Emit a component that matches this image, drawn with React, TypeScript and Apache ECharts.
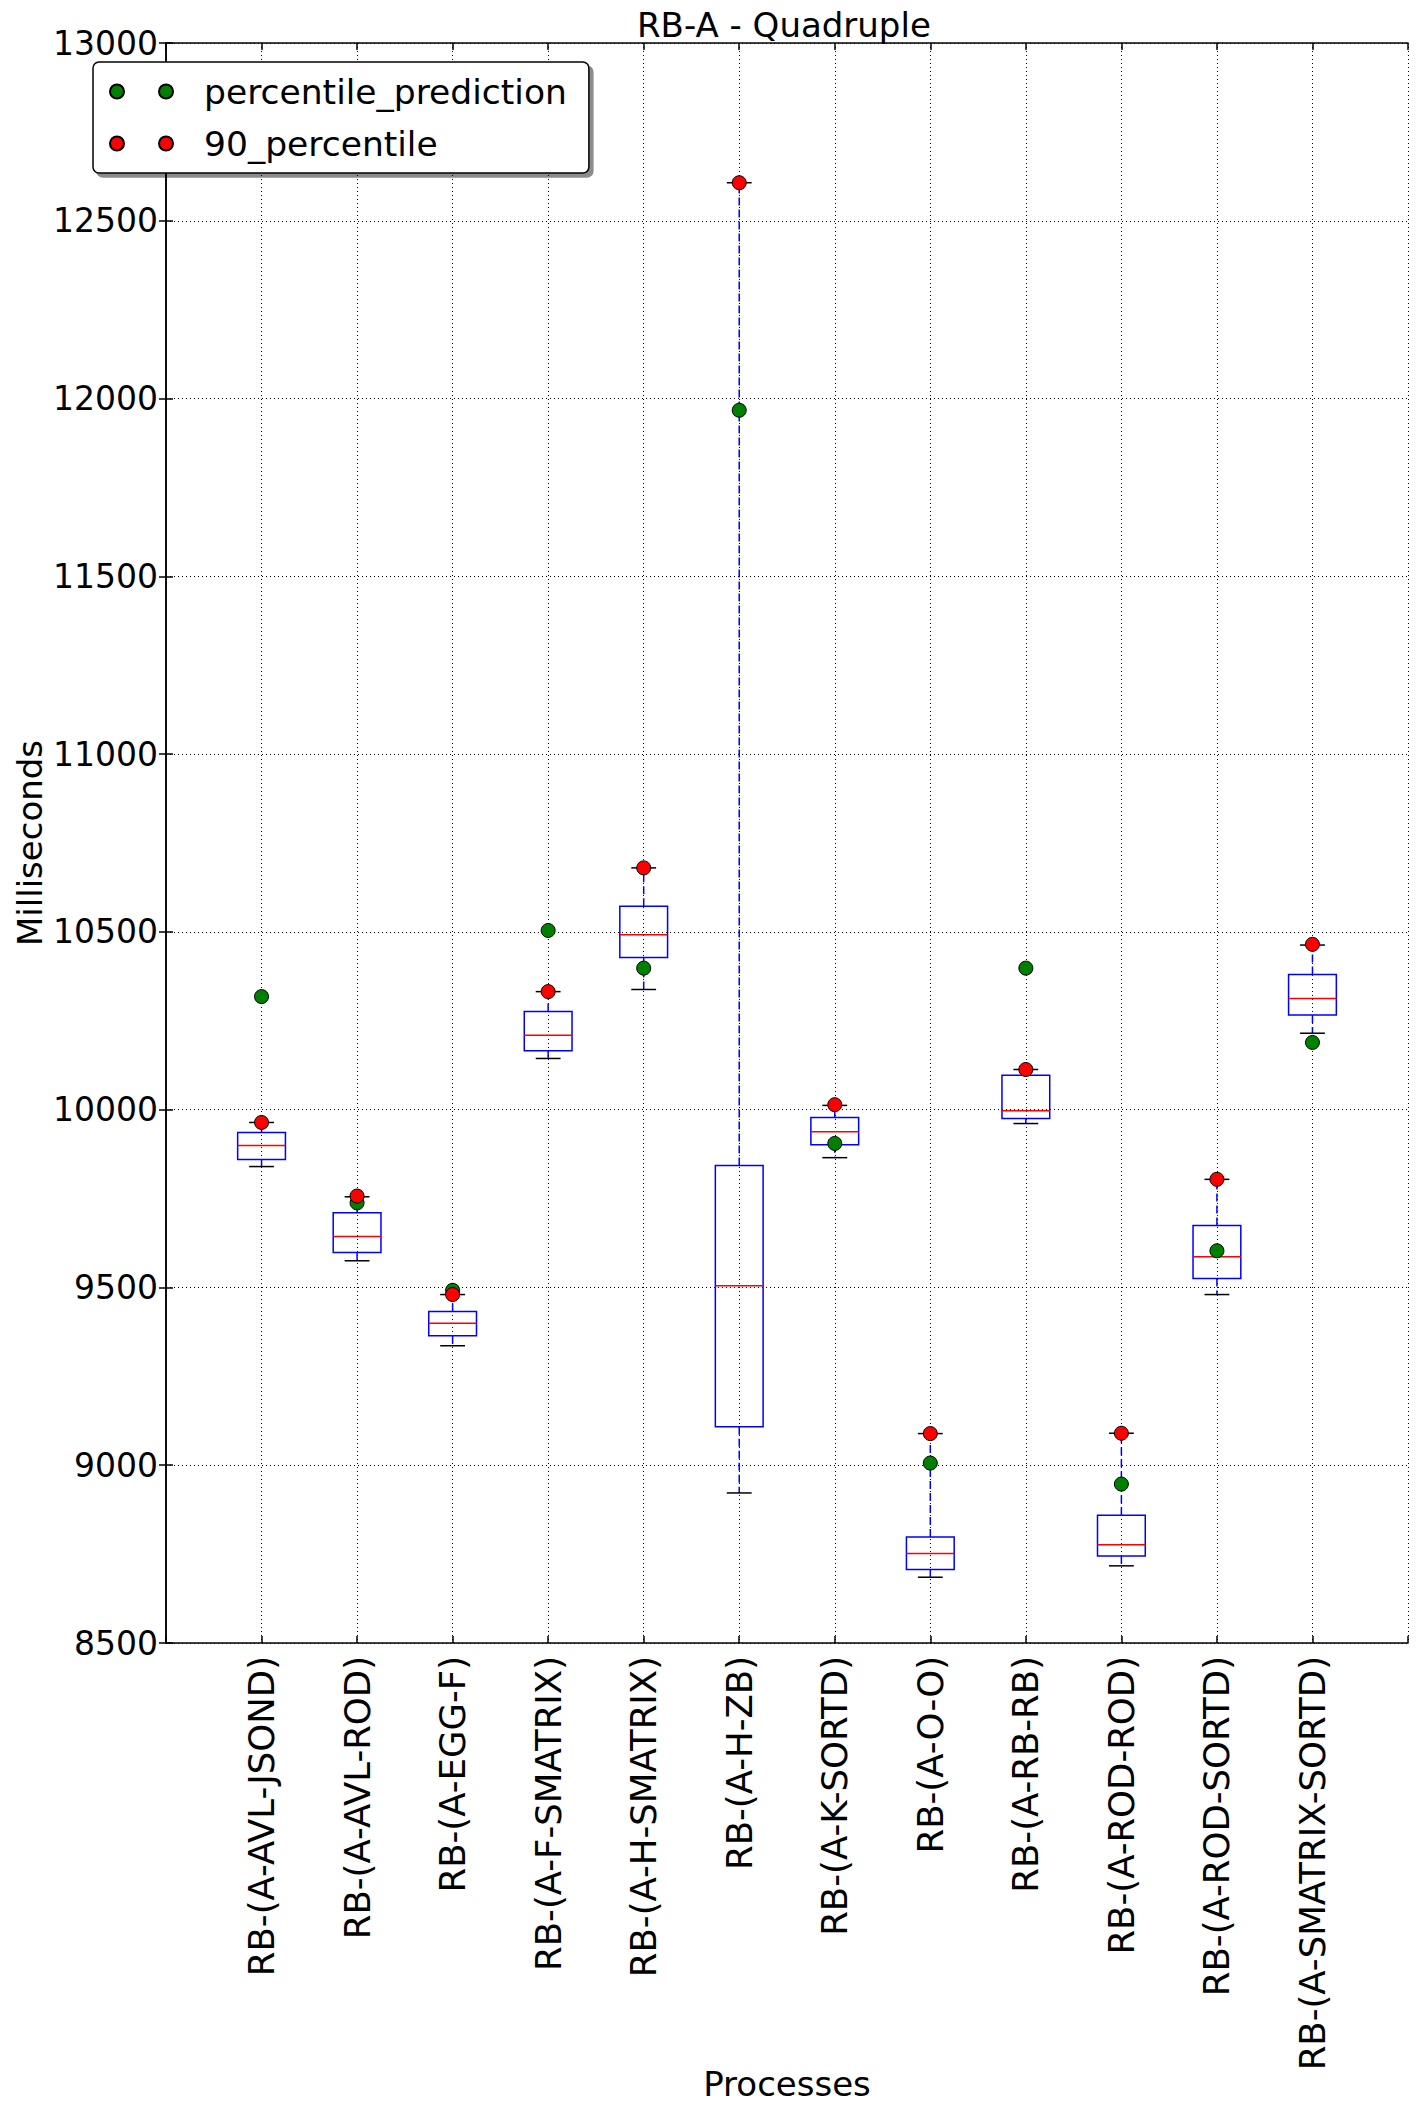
import React, { useEffect, useRef } from "react";
import * as echarts from "echarts";

const categories = [
  "RB-(A-AVL-JSOND)",
  "RB-(A-AVL-ROD)",
  "RB-(A-EGG-F)",
  "RB-(A-F-SMATRIX)",
  "RB-(A-H-SMATRIX)",
  "RB-(A-H-ZB)",
  "RB-(A-K-SORTD)",
  "RB-(A-O-O)",
  "RB-(A-RB-RB)",
  "RB-(A-ROD-ROD)",
  "RB-(A-ROD-SORTD)",
  "RB-(A-SMATRIX-SORTD)",
];

const lowerWhisker = [9840, 9575, 9336, 10144, 10338, 8922, 9865, 8685, 9961, 8717, 9480, 10215];
const q1 = [9860, 9598, 9364, 10166, 10428, 9108, 9901, 8707, 9975, 8745, 9525, 10266];
const median = [9899, 9643, 9399, 10209, 10492, 9505, 9938, 8752, 9997, 8776, 9586, 10313];
const q3 = [9936, 9710, 9432, 10276, 10572, 9843, 9978, 8798, 10097, 8859, 9674, 10380];
const upperWhisker = [9964, 9755, 9480, 10332, 10680, 12607, 10012, 9089, 10113, 9090, 9804, 10463];
const percentilePrediction = [10318, 9738, 9492, 10504, 10398, 11967, 9905, 9006, 10398, 8947, 9603, 10189];
const ninetyPercentile = [9964, 9757, 9480, 10332, 10680, 12607, 10014, 9089, 10113, 9090, 9804, 10465];

const FONT = "DejaVu Sans";
const legendIcon =
  "path://M0,7 A7,7 0 1,0 14,7 A7,7 0 1,0 0,7 Z M49,7 A7,7 0 1,0 63,7 A7,7 0 1,0 49,7 Z";

export default function App() {
  const ref = useRef<HTMLDivElement>(null);

  useEffect(() => {
    if (!ref.current) return;
    const chart = echarts.init(ref.current, undefined, { renderer: "svg" });

    const boxData = categories.map((_, i) => [
      i + 1,
      lowerWhisker[i],
      q1[i],
      median[i],
      q3[i],
      upperWhisker[i],
    ]);

    const renderItem = (params: any, api: any) => {
      const x = api.value(0);
      const pLow = api.coord([x, api.value(1)]);
      const pQ1 = api.coord([x, api.value(2)]);
      const pMed = api.coord([x, api.value(3)]);
      const pQ3 = api.coord([x, api.value(4)]);
      const pHigh = api.coord([x, api.value(5)]);
      const half = api.size([0.25, 0])[0];
      const capHalf = api.size([0.13, 0])[0];
      const cx = pMed[0];
      const dash = { stroke: "#0000ff", lineWidth: 1.5, lineDash: [8, 4] };
      return {
        type: "group",
        children: [
          { type: "line", shape: { x1: cx, y1: pQ3[1], x2: cx, y2: pHigh[1] }, style: dash },
          { type: "line", shape: { x1: cx, y1: pQ1[1], x2: cx, y2: pLow[1] }, style: dash },
          {
            type: "line",
            shape: { x1: cx - capHalf, y1: pHigh[1], x2: cx + capHalf, y2: pHigh[1] },
            style: { stroke: "#000", lineWidth: 1.5 },
          },
          {
            type: "line",
            shape: { x1: cx - capHalf, y1: pLow[1], x2: cx + capHalf, y2: pLow[1] },
            style: { stroke: "#000", lineWidth: 1.5 },
          },
          {
            type: "rect",
            shape: { x: cx - half, y: pQ3[1], width: 2 * half, height: pQ1[1] - pQ3[1] },
            style: { fill: "none", stroke: "#0000ff", lineWidth: 1.5 },
          },
          {
            type: "line",
            shape: { x1: cx - half, y1: pMed[1], x2: cx + half, y2: pMed[1] },
            style: { stroke: "#ff0000", lineWidth: 1.5 },
          },
        ],
      };
    };

    const tickLabel = { fontFamily: FONT, fontSize: 33, color: "#000" };
    const frameLine = { show: true, lineStyle: { color: "#000", width: 1.5 } };
    const dotted = { show: true, lineStyle: { color: "#000", width: 1, type: [1, 3] as any } };
    const innerTick = { show: true, inside: true, length: 7, lineStyle: { color: "#000", width: 1.5 } };

    chart.setOption({
      animation: false,
      backgroundColor: "#fff",
      title: {
        text: "RB-A - Quadruple",
        left: 637,
        top: 8,
        padding: 0,
        textStyle: { fontFamily: FONT, fontSize: 34, fontWeight: "normal", color: "#000" },
      },
      legend: {
        orient: "vertical",
        left: 93,
        top: 62,
        padding: [12, 22, 12, 16],
        itemGap: 17,
        itemWidth: 63,
        itemHeight: 14,
        backgroundColor: "#fff",
        borderColor: "#000",
        borderWidth: 1.5,
        borderRadius: 6,
        shadowColor: "rgba(0,0,0,0.45)",
        shadowOffsetX: 4,
        shadowOffsetY: 4,
        shadowBlur: 0,
        textStyle: { fontFamily: FONT, fontSize: 34.5, color: "#000", padding: [0, 0, 0, 26] },
        data: [
          { name: "percentile_prediction", icon: legendIcon },
          { name: "90_percentile", icon: legendIcon },
        ],
      },
      grid: {
        left: 166,
        top: 43,
        right: 9,
        bottom: 470,
        containLabel: false,
        outerBoundsMode: "none",
      },
      xAxis: [
        {
          type: "value",
          min: 0,
          max: 13,
          interval: 1,
          name: "Processes",
          nameLocation: "middle",
          nameGap: 424,
          nameMoveOverlap: false,
          nameTextStyle: { fontFamily: FONT, fontSize: 34, color: "#000" },
          axisLine: frameLine,
          axisTick: innerTick,
          axisLabel: {
            ...tickLabel,
            fontSize: 35.5,
            rotate: 90,
            margin: 13,
            padding: [0, 0, 14, 0],
            formatter: (v: number) => categories[Math.round(v) - 1] ?? "",
          },
          splitLine: dotted,
        },
        {
          type: "value",
          position: "top",
          min: 0,
          max: 13,
          interval: 1,
          axisLine: frameLine,
          axisTick: innerTick,
          axisLabel: { show: false },
          splitLine: { show: false },
        },
      ],
      yAxis: [
        {
          type: "value",
          min: 8500,
          max: 13000,
          interval: 500,
          name: "Milliseconds",
          nameLocation: "middle",
          nameRotate: 90,
          nameGap: 119,
          nameMoveOverlap: false,
          nameTextStyle: { fontFamily: FONT, fontSize: 34, color: "#000" },
          axisLine: frameLine,
          axisTick: innerTick,
          axisLabel: { ...tickLabel, margin: 8, formatter: (v: number) => String(v) },
          splitLine: dotted,
        },
        {
          type: "value",
          position: "right",
          min: 8500,
          max: 13000,
          interval: 500,
          axisLine: frameLine,
          axisTick: innerTick,
          axisLabel: { show: false },
          splitLine: { show: false },
        },
      ],
      series: [
        {
          type: "custom",
          name: "box",
          xAxisIndex: 0,
          yAxisIndex: 0,
          renderItem,
          encode: { x: 0, y: [1, 2, 3, 4, 5] },
          data: boxData,
          z: 2,
        },
        {
          type: "scatter",
          name: "percentile_prediction",
          xAxisIndex: 0,
          yAxisIndex: 0,
          symbol: "circle",
          symbolSize: 14,
          itemStyle: { color: "#008000", borderColor: "#000", borderWidth: 1, opacity: 1 },
          data: percentilePrediction.map((v, i) => [i + 1, v]),
          z: 3,
        },
        {
          type: "scatter",
          name: "90_percentile",
          xAxisIndex: 0,
          yAxisIndex: 0,
          symbol: "circle",
          symbolSize: 14,
          itemStyle: { color: "#ff0000", borderColor: "#000", borderWidth: 1, opacity: 1 },
          data: ninetyPercentile.map((v, i) => [i + 1, v]),
          z: 4,
        },
      ],
    });

    return () => chart.dispose();
  }, []);

  return (
    <div
      ref={ref}
      style={{ position: "absolute", left: 0, top: 0, width: 1417, height: 2113 }}
    />
  );
}
